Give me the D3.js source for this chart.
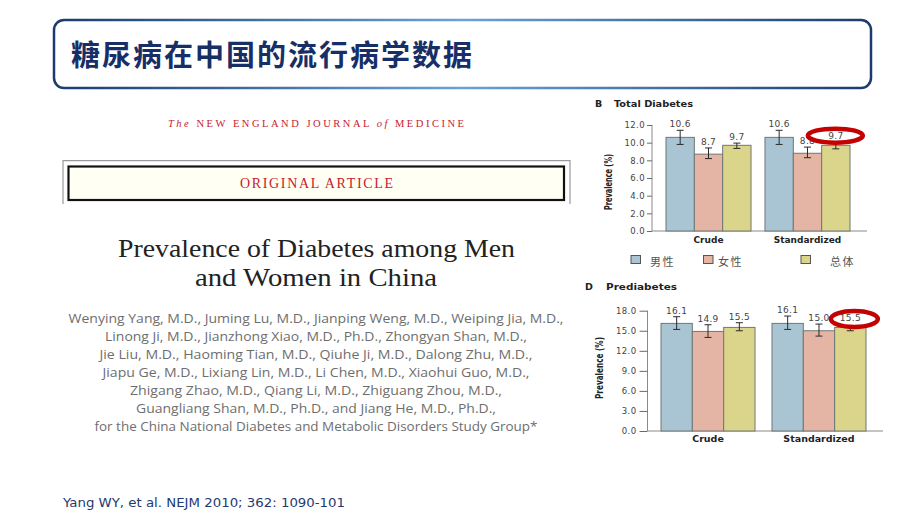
<!DOCTYPE html>
<html>
<head>
<meta charset="utf-8">
<script src="https://cdn.jsdelivr.net/npm/d3@7"></script>
<style>
  html, body { margin: 0; padding: 0; background: #ffffff; }
  svg { display: block; }
</style>
</head>
<body>
<svg id="chart" width="920" height="517"></svg>
<script>
// ---------- data ----------
const groups = ["Crude", "Standardized"];
const sexes = ["男性", "女性", "总体"];
const sexColors = ["#a9c4d3", "#e4b4a4", "#dbd48b"];

const diabetesValues = [[10.6, 8.7, 9.7], [10.6, 8.8, 9.7]];
const diabetesLow    = [[9.8, 8.2, 9.35], [9.8, 8.3, 9.3]];
const diabetesHigh   = [[11.4, 9.4, 9.95], [11.4, 9.5, 10.1]];
const diabetesTicks  = [0, 2, 4, 6, 8, 10, 12];

const prediabetesValues = [[16.1, 14.9, 15.5], [16.1, 15.0, 15.5]];
const prediabetesLow    = [[15.2, 14.0, 15.0], [15.2, 14.2, 15.0]];
const prediabetesHigh   = [[17.1, 15.9, 16.2], [17.2, 16.0, 16.0]];
const prediabetesTicks  = [0, 3, 6, 9, 12, 15, 18];

const authorLines = [
  "Wenying Yang, M.D., Juming Lu, M.D., Jianping Weng, M.D., Weiping Jia, M.D.,",
  "Linong Ji, M.D., Jianzhong Xiao, M.D., Ph.D., Zhongyan Shan, M.D.,",
  "Jie Liu, M.D., Haoming Tian, M.D., Qiuhe Ji, M.D., Dalong Zhu, M.D.,",
  "Jiapu Ge, M.D., Lixiang Lin, M.D., Li Chen, M.D., Xiaohui Guo, M.D.,",
  "Zhigang Zhao, M.D., Qiang Li, M.D., Zhiguang Zhou, M.D.,",
  "Guangliang Shan, M.D., Ph.D., and Jiang He, M.D., Ph.D.,",
  "for the China National Diabetes and Metabolic Disorders Study Group*"
];
const authorWidths = [495, 422, 433, 427, 372, 360, 443];

// ---------- page frame ----------
const svg = d3.select("#chart");
const defs = svg.append("defs");
const grad = defs.append("linearGradient").attr("id", "boxGrad")
  .attr("x1", "0%").attr("x2", "100%").attr("y1", "0%").attr("y2", "0%");
grad.append("stop").attr("offset", "0%").attr("stop-color", "#1c3a6e");
grad.append("stop").attr("offset", "50%").attr("stop-color", "#6aa3d6");
grad.append("stop").attr("offset", "100%").attr("stop-color", "#1c3a6e");

svg.append("rect").attr("x", 54).attr("y", 20).attr("width", 817).attr("height", 68)
  .attr("rx", 10).attr("fill", "#ffffff")
  .attr("stroke", "url(#boxGrad)").attr("stroke-width", 2.5);
svg.append("text").attr("x", 71).attr("y", 66)
  .attr("font-family", "'Noto Sans CJK SC', sans-serif").attr("font-weight", "bold")
  .attr("font-size", 29).attr("fill", "#172f66")
  .attr("textLength", 401).attr("lengthAdjust", "spacing")
  .text("糖尿病在中国的流行病学数据");

// ---------- NEJM article header ----------
const nejm = svg.append("text").attr("x", 316).attr("y", 127)
  .attr("text-anchor", "middle").attr("font-family", "'Liberation Serif', serif")
  .attr("font-size", 10.5).attr("fill", "#c8202c")
  .attr("textLength", 296).attr("lengthAdjust", "spacing");
nejm.append("tspan").attr("font-style", "italic").text("The ");
nejm.append("tspan").text("NEW ENGLAND JOURNAL ");
nejm.append("tspan").attr("font-style", "italic").text("of ");
nejm.append("tspan").text("MEDICINE");

svg.append("path").attr("d", "M63,204 V160.7 H570 V204")
  .attr("fill", "none").attr("stroke", "#9a9a9a").attr("stroke-width", 1.2);
svg.append("rect").attr("x", 68.5).attr("y", 166.5).attr("width", 495.5).attr("height", 33.5)
  .attr("fill", "#fffff4").attr("stroke", "#111").attr("stroke-width", 2.2);
svg.append("text").attr("x", 316.5).attr("y", 188)
  .attr("text-anchor", "middle").attr("font-family", "'Liberation Serif', serif")
  .attr("font-size", 14).attr("fill", "#c8202c")
  .attr("textLength", 153).attr("lengthAdjust", "spacing")
  .text("ORIGINAL ARTICLE");

svg.append("text").attr("x", 316.5).attr("y", 257)
  .attr("text-anchor", "middle").attr("font-family", "'Liberation Serif', serif")
  .attr("font-size", 25).attr("fill", "#222")
  .attr("textLength", 397).attr("lengthAdjust", "spacingAndGlyphs")
  .text("Prevalence of Diabetes among Men");
svg.append("text").attr("x", 316).attr("y", 285.5)
  .attr("text-anchor", "middle").attr("font-family", "'Liberation Serif', serif")
  .attr("font-size", 25).attr("fill", "#222")
  .attr("textLength", 242).attr("lengthAdjust", "spacingAndGlyphs")
  .text("and Women in China");

svg.append("g").selectAll("text").data(authorLines).join("text")
  .attr("x", 316).attr("y", (d, i) => 323 + i * 18)
  .attr("text-anchor", "middle").attr("font-family", "'Open Sans', sans-serif")
  .attr("font-size", 12.5).attr("fill", "#6e6e6e")
  .attr("textLength", (d, i) => authorWidths[i]).attr("lengthAdjust", "spacingAndGlyphs")
  .text(d => d);

svg.append("text").attr("x", 63).attr("y", 507)
  .attr("font-family", "'DejaVu Sans', sans-serif").attr("font-size", 11.5)
  .attr("fill", "#1f3a70").attr("textLength", 282).attr("lengthAdjust", "spacingAndGlyphs")
  .text("Yang WY, et al. NEJM 2010; 362: 1090-101");

// ---------- bar panels ----------
function drawPanel(cfg) {
  const g = svg.append("g");
  const y = d3.scaleLinear().domain([0, cfg.max]).range([cfg.y0, cfg.y1]);
  const x0 = d3.scaleBand().domain(groups).range([cfg.barLeft, cfg.barRight])
    .paddingInner(cfg.padInner).paddingOuter(0);
  const x1 = d3.scaleBand().domain(sexes).range([0, x0.bandwidth()]).padding(0);

  // axes
  const yAxis = d3.axisLeft(y).tickValues(cfg.ticks).tickFormat(d3.format(".1f"))
    .tickSize(cfg.tickSize).tickPadding(cfg.tickPad);
  const ya = g.append("g").attr("transform", `translate(${cfg.axisX},0)`).call(yAxis);
  ya.select(".domain").attr("stroke", "#8a8a8a").attr("d", `M0,${cfg.y1}V${cfg.y0}`);
  ya.selectAll(".tick line").attr("stroke", "#6a6a6a");
  ya.selectAll(".tick text").attr("font-family", "'DejaVu Sans', sans-serif")
    .attr("font-size", cfg.tickFont).attr("fill", "#444").attr("letter-spacing", 0.4);
  g.append("line").attr("x1", cfg.axisX).attr("x2", cfg.axisEnd)
    .attr("y1", cfg.y0).attr("y2", cfg.y0).attr("stroke", "#8a8a8a").attr("stroke-width", 1.2);

  // bars
  groups.forEach((grp, gi) => {
    const gg = g.append("g").attr("transform", `translate(${x0(grp)},0)`);
    const rows = sexes.map((s, si) => ({
      s, si, v: cfg.values[gi][si], lo: cfg.low[gi][si], hi: cfg.high[gi][si]
    }));
    gg.selectAll("rect.bar").data(rows).join("rect").attr("class", "bar")
      .attr("x", d => x1(d.s)).attr("width", x1.bandwidth())
      .attr("y", d => y(d.v)).attr("height", d => y(0) - y(d.v))
      .attr("fill", d => sexColors[d.si])
      .attr("stroke", "#6f7774").attr("stroke-width", 1);
    const eb = gg.selectAll("g.err").data(rows).join("g").attr("class", "err")
      .attr("stroke", "#2a2a2a").attr("stroke-width", 1);
    const cx = d => x1(d.s) + x1.bandwidth() / 2;
    eb.append("line").attr("x1", cx).attr("x2", cx)
      .attr("y1", d => y(d.lo)).attr("y2", d => y(d.hi));
    eb.append("line").attr("x1", d => cx(d) - 3.5).attr("x2", d => cx(d) + 3.5)
      .attr("y1", d => y(d.lo)).attr("y2", d => y(d.lo));
    eb.append("line").attr("x1", d => cx(d) - 3.5).attr("x2", d => cx(d) + 3.5)
      .attr("y1", d => y(d.hi)).attr("y2", d => y(d.hi));
    gg.selectAll("text.val").data(rows).join("text").attr("class", "val")
      .attr("x", cx).attr("y", d => y(d.hi) - 3)
      .attr("text-anchor", "middle").attr("font-family", "'DejaVu Sans', sans-serif")
      .attr("font-size", cfg.valFont).attr("fill", "#444").attr("letter-spacing", 0.3)
      .text(d => d3.format(".1f")(d.v));
    gg.append("text").attr("x", x0.bandwidth() / 2).attr("y", cfg.y0 + cfg.catDy)
      .attr("text-anchor", "middle").attr("font-family", "'DejaVu Sans', sans-serif")
      .attr("font-weight", "bold").attr("font-size", cfg.catFont).attr("fill", "#222")
      .text(grp);
  });

  // highlight ellipse around standardized total
  const hx = x0("Standardized") + x1("总体") + x1.bandwidth() / 2;
  const hv = cfg.values[1][2];
  const hy = y(cfg.high[1][2]) - 3 - cfg.valFont * 0.35;
  g.append("ellipse").attr("cx", hx + cfg.ellDx).attr("cy", hy + cfg.ellDy)
    .attr("rx", cfg.ellRx).attr("ry", cfg.ellRy)
    .attr("fill", "#ffffff").attr("stroke", "#c40000").attr("stroke-width", 4.5);
  g.append("text").attr("x", hx).attr("y", y(cfg.high[1][2]) - 3)
    .attr("text-anchor", "middle").attr("font-family", "'DejaVu Sans', sans-serif")
    .attr("font-size", cfg.valFont).attr("fill", "#444").attr("letter-spacing", 0.3)
    .text(d3.format(".1f")(hv));

  // y label
  g.append("text")
    .attr("transform", `translate(${cfg.ylabX},${cfg.ylabY}) rotate(-90)`)
    .attr("text-anchor", "middle")
    .attr("font-family", "'Liberation Sans Narrow', 'DejaVu Sans Condensed', sans-serif")
    .attr("font-weight", "bold")
    .attr("font-size", cfg.ylabFont).attr("fill", "#222")
    .attr("textLength", cfg.ylabLen).attr("lengthAdjust", "spacingAndGlyphs")
    .text("Prevalence (%)");

  // panel title
  g.append("text").attr("x", cfg.letterX).attr("y", cfg.titleY)
    .attr("font-family", "'DejaVu Sans', sans-serif").attr("font-weight", "bold")
    .attr("font-size", 9.5).attr("fill", "#222").text(cfg.letter);
  g.append("text").attr("x", cfg.titleX).attr("y", cfg.titleY)
    .attr("font-family", "'DejaVu Sans', sans-serif").attr("font-weight", "bold")
    .attr("font-size", 9.5).attr("fill", "#222")
    .attr("textLength", cfg.titleLen).attr("lengthAdjust", "spacingAndGlyphs")
    .text(cfg.title);
}

drawPanel({
  values: diabetesValues, low: diabetesLow, high: diabetesHigh, ticks: diabetesTicks,
  max: 12, y0: 231, y1: 125, axisX: 652, axisEnd: 867,
  barLeft: 666, barRight: 850, padInner: 0.141,
  tickSize: 5, tickPad: 2, tickFont: 8.5, valFont: 9, catFont: 9, catDy: 12,
  ellDx: -0.5, ellDy: 0, ellRx: 27.5, ellRy: 7,
  ylabX: 612, ylabY: 182, ylabFont: 10, ylabLen: 56,
  letter: "B", letterX: 595, title: "Total Diabetes", titleX: 614, titleY: 107, titleLen: 79
});

drawPanel({
  values: prediabetesValues, low: prediabetesLow, high: prediabetesHigh, ticks: prediabetesTicks,
  max: 18, y0: 431, y1: 310.7, axisX: 647.5, axisEnd: 883,
  barLeft: 661, barRight: 866, padInner: 0.153,
  tickSize: 8, tickPad: 3, tickFont: 8.5, valFont: 9, catFont: 9.5, catDy: 11,
  ellDx: 4, ellDy: 1, ellRx: 23.5, ellRy: 8,
  ylabX: 603, ylabY: 368, ylabFont: 10, ylabLen: 62,
  letter: "D", letterX: 585, title: "Prediabetes", titleX: 606, titleY: 290, titleLen: 71
});

// ---------- legend ----------
const legendX = [631, 703.5, 801];
const legendTextX = [650, 718, 830];
const lg = svg.append("g");
lg.selectAll("rect").data(sexes).join("rect")
  .attr("x", (d, i) => legendX[i]).attr("y", 255.5).attr("width", 9.5).attr("height", 8)
  .attr("fill", (d, i) => sexColors[i]).attr("stroke", "#555").attr("stroke-width", 1);
lg.selectAll("text").data(sexes).join("text")
  .attr("x", (d, i) => legendTextX[i]).attr("y", 266)
  .attr("font-family", "'Noto Sans CJK SC', sans-serif").attr("font-size", 11)
  .attr("fill", "#555").attr("letter-spacing", 1.5)
  .text(d => d);
</script>
</body>
</html>
